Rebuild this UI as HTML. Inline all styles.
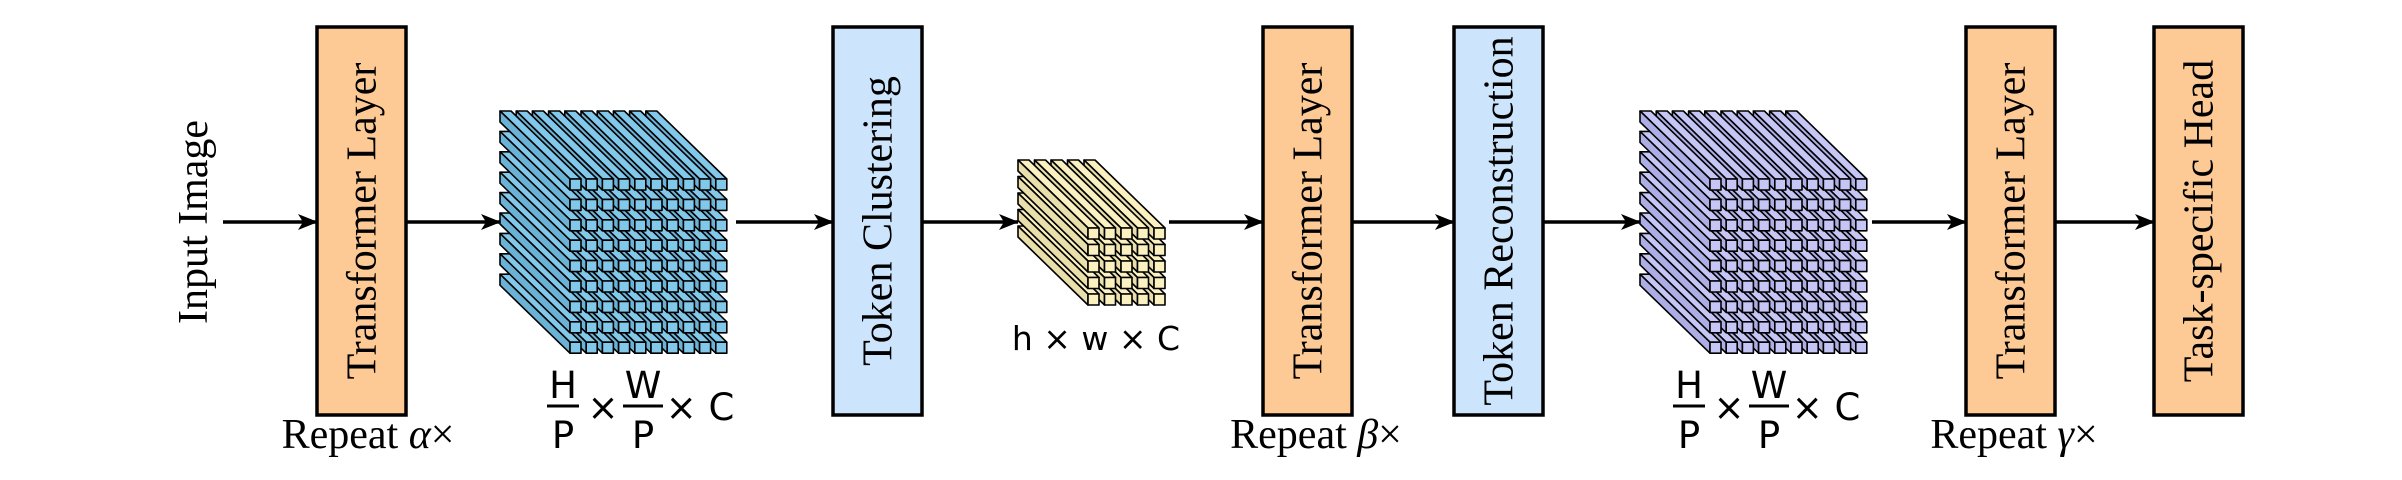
<!DOCTYPE html>
<html><head><meta charset="utf-8"><style>
html,body{margin:0;padding:0;background:#fff;}
svg{display:block;}
.box{stroke:#000;stroke-width:3.5;}
.lbl{font-family:"Liberation Serif",serif;font-size:42px;fill:#000;}
.rep{font-family:"Liberation Serif",serif;font-size:42px;fill:#000;}
.sans{font-family:"DejaVu Sans","Liberation Sans",sans-serif;font-size:33px;fill:#000;}
.fr{font-family:"DejaVu Sans","Liberation Sans",sans-serif;font-size:37px;fill:#000;}
</style></head><body>
<svg id="fig" width="2402" height="480" viewBox="0 0 2402 480" xmlns="http://www.w3.org/2000/svg">
<defs><marker id="ah" markerWidth="20" markerHeight="16" refX="19" refY="8" orient="auto" markerUnits="userSpaceOnUse" viewBox="0 0 20 16"><path d="M0,0 L20,8 L0,16 L5,8 Z" fill="#000"/></marker></defs>
<text class="lbl" transform="translate(207,222) rotate(-90)" text-anchor="middle">Input Image</text>
<g id="arrows"></g>
<g id="boxes"></g>
<g id="cubes"></g>
<text class="rep" x="368" y="448" text-anchor="middle">Repeat <tspan font-style="italic">α</tspan>×</text>
<text class="rep" x="1316" y="448" text-anchor="middle">Repeat <tspan font-style="italic">β</tspan>×</text>
<text class="rep" x="2014" y="448" text-anchor="middle">Repeat <tspan font-style="italic">γ</tspan>×</text>
<text class="sans" x="1096" y="350" text-anchor="middle">h × w × C</text>
<g>
<text class="fr" x="563" y="398" text-anchor="middle">H</text><line x1="547" x2="579" y1="406" y2="406" stroke="#000" stroke-width="3"/><text class="fr" x="563" y="448" text-anchor="middle">P</text>
<text class="fr" x="603" y="420" text-anchor="middle">×</text>
<text class="fr" x="643" y="398" text-anchor="middle">W</text><line x1="623" x2="663" y1="406" y2="406" stroke="#000" stroke-width="3"/><text class="fr" x="643" y="448" text-anchor="middle">P</text>
<text class="fr" x="700" y="420" text-anchor="middle">× C</text></g>
<g>
<text class="fr" x="1689" y="398" text-anchor="middle">H</text><line x1="1673" x2="1705" y1="406" y2="406" stroke="#000" stroke-width="3"/><text class="fr" x="1689" y="448" text-anchor="middle">P</text>
<text class="fr" x="1729" y="420" text-anchor="middle">×</text>
<text class="fr" x="1769" y="398" text-anchor="middle">W</text><line x1="1749" x2="1789" y1="406" y2="406" stroke="#000" stroke-width="3"/><text class="fr" x="1769" y="448" text-anchor="middle">P</text>
<text class="fr" x="1826" y="420" text-anchor="middle">× C</text></g>
</svg>
<script>
const NS='http://www.w3.org/2000/svg';
const boxNames=['transformer-layer-1','token-clustering','transformer-layer-2','token-reconstruction','transformer-layer-3','task-specific-head'];
const boxLabels=['Transformer Layer','Token Clustering','Transformer Layer','Token Reconstruction','Transformer Layer','Task-specific Head'];
const boxX=[317,833,1263,1454,1966,2154];
const boxFill=['#fdca96','#cce5fc','#fdca96','#cce5fc','#fdca96','#fdca96'];
const arrowFrom=[223,406,736,922,1169,1352,1543,1872,2055];
const arrowTo=[317,500,833,1018,1263,1454,1640,1966,2154];
const cubeNames=['token-cube-1','clustered-token-cube','token-cube-2'];
const cubeCols=[10,5,10];
const cubeRows=[9,5,9];
const cubeFX=[570,1088,1710];
const cubeFY=[179,228,179];
const cubePX=[16.2,16.5,16.2];
const cubePY=[20.4,16.5,20.4];
const cubeFront=['#82c8ea','#fbf0c0','#c6c6f6'];
const cubeSide=['#6bb3d6','#e9dfaa','#aeaee6'];
const BW=89,BT=27,BB=415,AY=222,S=11,DX=70,DY=68;
const bg=document.getElementById('boxes');
boxX.forEach((x,i)=>{
  const r=document.createElementNS(NS,'rect');
  
  
  r.setAttribute('x',x);r.setAttribute('y',BT);r.setAttribute('width',BW);r.setAttribute('height',BB-BT);
  r.setAttribute('fill',boxFill[i]);r.setAttribute('class','box');bg.appendChild(r);
  const t=document.createElementNS(NS,'text');
  
  
  t.setAttribute('class','lbl');t.setAttribute('text-anchor','middle');
  t.setAttribute('transform','translate('+(x+BW/2+14)+','+((BT+BB)/2)+') rotate(-90)');
  t.textContent=boxLabels[i];bg.appendChild(t);
});
const ag=document.getElementById('arrows');
arrowFrom.forEach((x,i)=>{
  const l=document.createElementNS(NS,'line');
  
  
  l.setAttribute('x1',x);l.setAttribute('x2',arrowTo[i]);l.setAttribute('y1',AY);l.setAttribute('y2',AY);
  l.setAttribute('stroke','#000');l.setAttribute('stroke-width','3.5');l.setAttribute('marker-end','url(#ah)');
  ag.appendChild(l);
});
const cg=document.getElementById('cubes');
function poly(g,pts,fill){const p=document.createElementNS(NS,'polygon');p.setAttribute('points',pts.map(a=>a.join(',')).join(' '));p.setAttribute('fill',fill);p.setAttribute('stroke','#000');p.setAttribute('stroke-width','1.6');p.setAttribute('stroke-linejoin','round');g.appendChild(p);}
cubeNames.forEach((n,k)=>{
  const g=document.createElementNS(NS,'g');
  
  
  cg.appendChild(g);
  for(let r=cubeRows[k]-1;r>=0;r--){
    for(let c=cubeCols[k]-1;c>=0;c--){
      const x=cubeFX[k]+c*cubePX[k],y=cubeFY[k]+r*cubePY[k];
      poly(g,[[x,y],[x+S,y],[x+S-DX,y-DY],[x-DX,y-DY]],cubeFront[k]);
      poly(g,[[x,y],[x,y+S],[x-DX,y+S-DY],[x-DX,y-DY]],cubeSide[k]);
      poly(g,[[x,y],[x+S,y],[x+S,y+S],[x,y+S]],cubeFront[k]);
    }
  }
});
</script>
</body></html>
